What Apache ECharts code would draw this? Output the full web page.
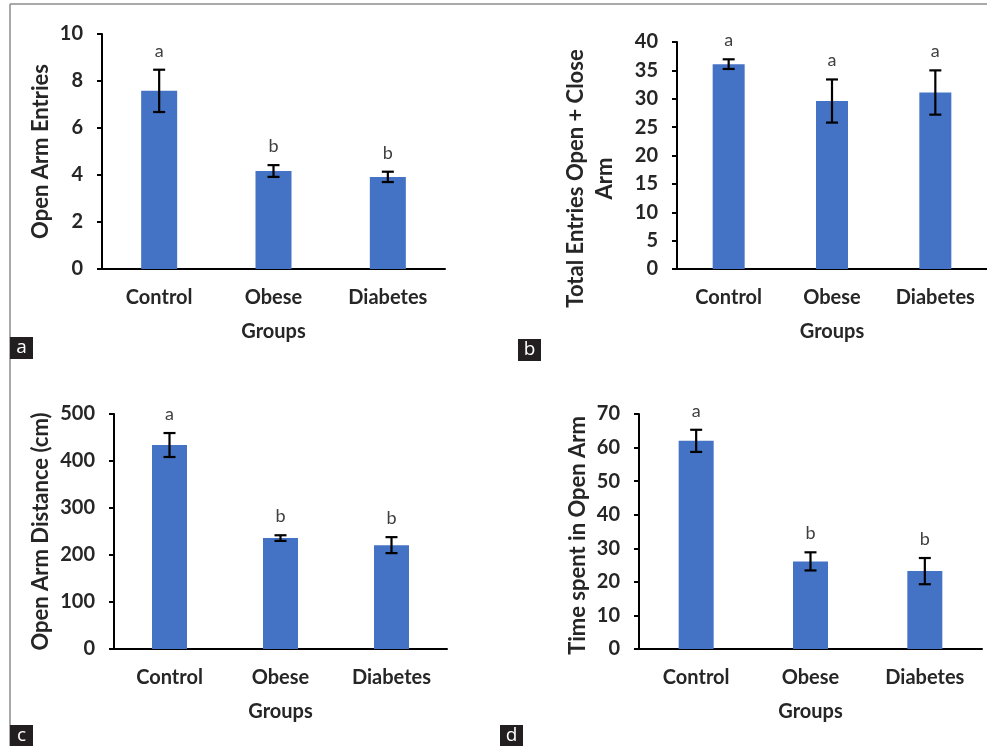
<!DOCTYPE html>
<html>
<head>
<meta charset="utf-8">
<script src="https://cdn.jsdelivr.net/npm/echarts@6/dist/echarts.min.js"></script>
<style>
  html, body { margin: 0; padding: 0; background: #fff; }
  #main { width: 987px; height: 746px; }
</style>
</head>
<body>
<div id="main"></div>
<script>
var groups = ['Control', 'Obese', 'Diabetes'];

// a: open arm entries
var entriesMean = [7.58, 4.17, 3.92];
var entriesSe = [0.9, 0.25, 0.22];
var entriesLetters = ['a', 'b', 'b'];

// b: total entries open + close arm
var totalMean = [36.1, 29.6, 31.1];
var totalSe = [0.85, 3.8, 3.9];
var totalLetters = ['a', 'a', 'a'];

// c: open arm distance (cm)
var distMean = [434, 236, 221];
var distSe = [25.5, 6, 17];
var distLetters = ['a', 'b', 'b'];

// d: time spent in open arm
var timeMean = [62, 26.1, 23.2];
var timeSe = [3.3, 2.7, 3.9];
var timeLetters = ['a', 'b', 'b'];

var FONT = 'Lato, "Open Sans", sans-serif';
var BLUE = '#4472C4';

var myChart = echarts.init(document.getElementById('main'));

var grids = [];
var xAxes = [];
var yAxes = [];
var series = [];

function addPanel(idx, box, yName, nameGap, namePad, max, interval, means, ses, letters, barW) {
    grids.push({ left: box[0], top: box[1], width: box[2], height: box[3] });
    xAxes.push({
        type: 'category',
        gridIndex: idx,
        data: groups,
        name: 'Groups',
        nameLocation: 'middle',
        nameGap: 53,
        nameTextStyle: { fontFamily: FONT, fontSize: 20, fontWeight: 'bold', color: '#262626' },
        axisLine: { lineStyle: { color: '#000', width: 2 } },
        axisTick: { alignWithLabel: true, length: 5, lineStyle: { color: '#000', width: 2 } },
        axisLabel: { margin: 19, fontFamily: FONT, fontSize: 20, fontWeight: 'bold', color: '#262626' }
    });
    yAxes.push({
        type: 'value',
        gridIndex: idx,
        min: 0,
        max: max,
        interval: interval,
        name: yName,
        nameLocation: 'middle',
        nameGap: nameGap,
        nameTextStyle: {
            fontFamily: FONT, fontSize: 22, fontWeight: 'bold', color: '#262626',
            lineHeight: 29, padding: [0, namePad, 0, 0]
        },
        axisLine: { show: true, lineStyle: { color: '#000', width: 2 } },
        axisTick: { show: true, length: 5, lineStyle: { color: '#000', width: 2 } },
        axisLabel: { margin: 19, fontFamily: FONT, fontSize: 20, fontWeight: 'bold', color: '#262626' },
        splitLine: { show: false }
    });
    series.push({
        type: 'bar',
        xAxisIndex: idx,
        yAxisIndex: idx,
        barWidth: barW,
        itemStyle: { color: BLUE },
        data: means
    });
    var errData = [];
    for (var i = 0; i < means.length; i++) {
        errData.push([i, means[i] + ses[i], means[i] - ses[i]]);
    }
    series.push({
        type: 'custom',
        xAxisIndex: idx,
        yAxisIndex: idx,
        data: errData,
        z: 10,
        renderItem: function (params, api) {
            var hi = api.coord([api.value(0), api.value(1)]);
            var lo = api.coord([api.value(0), api.value(2)]);
            var x = hi[0];
            var st = { stroke: '#000', lineWidth: 2.2 };
            return {
                type: 'group',
                children: [
                    { type: 'line', shape: { x1: x, y1: hi[1], x2: x, y2: lo[1] }, style: st },
                    { type: 'line', shape: { x1: x - 6, y1: hi[1], x2: x + 6, y2: hi[1] }, style: st },
                    { type: 'line', shape: { x1: x - 6, y1: lo[1], x2: x + 6, y2: lo[1] }, style: st },
                    {
                        type: 'text',
                        style: {
                            x: x, y: hi[1] - 19,
                            text: letters[params.dataIndex],
                            align: 'center', verticalAlign: 'middle',
                            fontFamily: FONT, fontSize: 18, fill: '#404040'
                        }
                    }
                ]
            };
        }
    });
}

addPanel(0, [102, 34, 343, 235], 'Open Arm Entries', 47, 0, 10, 2, entriesMean, entriesSe, entriesLetters, 36);
addPanel(1, [677, 42, 310, 227], 'Total Entries Open + Close\nArm', 58, 46, 40, 5, totalMean, totalSe, totalLetters, 32);
addPanel(2, [114, 414, 333, 235], 'Open Arm Distance (cm)', 59, 0, 500, 100, distMean, distSe, distLetters, 35);
addPanel(3, [639, 414, 343, 235], 'Time spent in Open Arm', 42, 8, 70, 10, timeMean, timeSe, timeLetters, 35);

function panelTag(x, y, t) {
    return {
        type: 'group',
        left: x, top: y,
        children: [
            { type: 'rect', shape: { x: 0, y: 0, width: 23, height: 22 }, style: { fill: '#231f20' } },
            { type: 'text', style: { x: 11.5, y: 11, text: t, align: 'center', verticalAlign: 'middle', fontFamily: '"Open Sans", sans-serif', fontSize: 19, fill: '#fff' } }
        ]
    };
}

var option = {
    animation: false,
    backgroundColor: '#fff',
    grid: grids,
    xAxis: xAxes,
    yAxis: yAxes,
    series: series,
    graphic: [
        { type: 'line', shape: { x1: 10, y1: 4, x2: 987, y2: 4 }, style: { stroke: '#8c8c8c', lineWidth: 1.5 } },
        { type: 'line', shape: { x1: 10, y1: 4, x2: 10, y2: 746 }, style: { stroke: '#8c8c8c', lineWidth: 1.5 } },
        panelTag(10, 337, 'a'),
        panelTag(518, 339, 'b'),
        panelTag(10, 725, 'c'),
        panelTag(500, 725, 'd')
    ]
};
myChart.setOption(option);
</script>
</body>
</html>
